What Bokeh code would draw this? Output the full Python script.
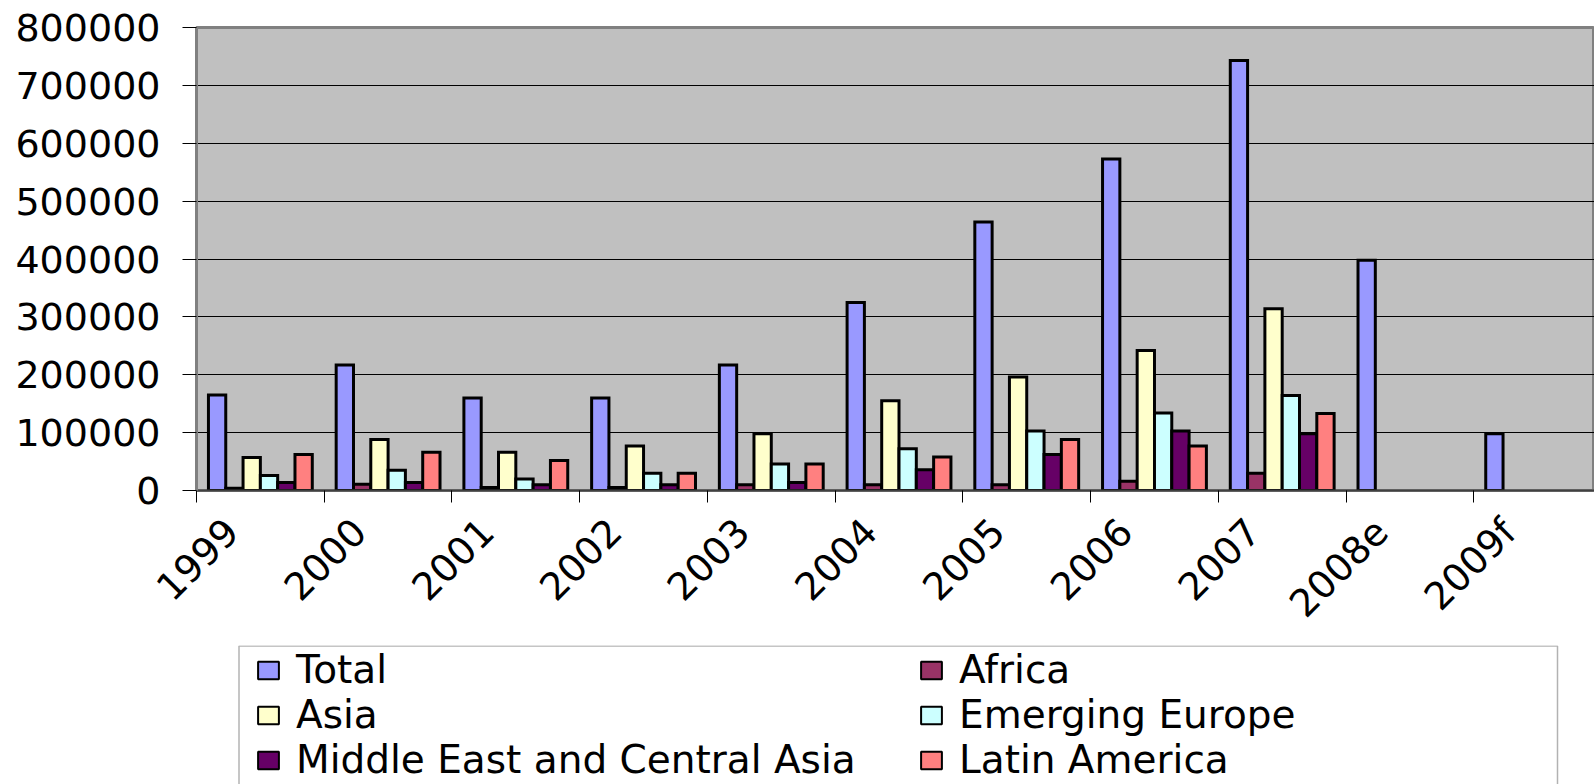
import numpy as np
from math import pi
from bokeh.plotting import figure
from bokeh.layouts import column
from bokeh.models import (Range1d, FixedTicker, Legend, LegendItem,
                          BasicTickFormatter, BoxAnnotation)
from bokeh.embed import file_html
from bokeh.resources import INLINE

# ---- data -------------------------------------------------------------
years = ["1999", "2000", "2001", "2002", "2003", "2004", "2005", "2006", "2007", "2008e", "2009f"]
total = [165000, 217000, 160000, 160000, 217000, 325000, 464000, 573000, 743000, 398000, 98000]
africa = [4000, 11000, 5000, 5000, 10000, 10000, 10000, 16000, 30000, None, None]
asia = [57000, 88000, 66000, 77000, 98000, 155000, 196000, 242000, 314000, None, None]
emerging_europe = [26000, 35000, 20000, 30000, 46000, 72000, 103000, 134000, 164000, None, None]
middle_east_central_asia = [14000, 14000, 10000, 10000, 14000, 36000, 62000, 103000, 98000, None, None]
latin_america = [62000, 66000, 52000, 30000, 46000, 58000, 88000, 77000, 133000, None, None]

series_names = ["Total", "Africa", "Asia", "Emerging Europe",
                "Middle East and Central Asia", "Latin America"]
series_values = [total, africa, asia, emerging_europe, middle_east_central_asia, latin_america]
series_colors = ["#9999FF", "#993366", "#FFFFCC", "#CCFFFF", "#660066", "#FF8080"]
y_ticks = [0, 100000, 200000, 300000, 400000, 500000, 600000, 700000, 800000]

# ---- chart ------------------------------------------------------------
n = len(years)
centers = np.arange(n) + 0.5
bar_w = 0.1355
label_shift = 0.223          # rotated labels end a little left of the category centre
FONT = "DejaVu Sans"

p = figure(width=1594, height=645, output_backend="svg", toolbar_location=None,
           x_range=Range1d(0, 10.945), y_range=Range1d(0, 800000),
           min_border_left=196, min_border_right=0, min_border_top=27,
           min_border_bottom=155)
p.background_fill_color = "#C0C0C0"
p.border_fill_color = "white"
p.outline_line_color = "#808080"
p.outline_line_width = 3

series_tops = []
for k, (name, vals, col) in enumerate(zip(series_names, series_values, series_colors)):
    tops = np.array([np.nan if v is None else v for v in vals], dtype=float)
    series_tops.append(tops)
    p.vbar(x=centers + (k - 2.5) * bar_w, top=tops, bottom=0, width=bar_w,
           fill_color=col, line_color="black", line_width=3, line_join="miter")

p.xgrid.visible = False
p.ygrid.ticker = FixedTicker(ticks=y_ticks)
p.ygrid.grid_line_color = "black"
p.ygrid.grid_line_width = 1

p.yaxis.ticker = FixedTicker(ticks=y_ticks)
p.yaxis.formatter = BasicTickFormatter(use_scientific=False)
p.yaxis.axis_line_color = "#808080"
p.yaxis.axis_line_width = 3
p.yaxis.major_tick_in = 0
p.yaxis.major_tick_out = 14
p.yaxis.minor_tick_line_color = None
p.yaxis.major_tick_line_color = "black"
p.yaxis.major_label_standoff = 22
p.yaxis.major_label_text_font = FONT
p.yaxis.major_label_text_font_size = "38px"
p.yaxis.major_label_text_color = "black"

label_pos = [float(c - label_shift) for c in centers]
p.xaxis.ticker = FixedTicker(ticks=label_pos, minor_ticks=list(range(n + 1)))
p.xaxis.major_label_overrides = {lp: y for lp, y in zip(label_pos, years)}
p.xaxis.major_tick_in = 0
p.xaxis.major_tick_out = 0
p.xaxis.minor_tick_in = 0
p.xaxis.minor_tick_out = 12
p.xaxis.minor_tick_line_color = "black"
p.xaxis.axis_line_color = "#404040"
p.xaxis.axis_line_width = 2
p.xaxis.major_label_orientation = pi / 4
p.xaxis.major_label_standoff = 23
p.xaxis.major_label_text_font = FONT
p.xaxis.major_label_text_font_size = "38px"
p.xaxis.major_label_text_color = "black"

# ---- legend strip (its frame is aligned with the chart frame: left = 196) ----
lg = figure(width=1594, height=139, output_backend="svg", toolbar_location=None,
            x_range=Range1d(0, 10.945), y_range=Range1d(0, 800000),
            x_axis_location=None, y_axis_location=None,
            min_border_left=0, min_border_right=0, min_border_top=0, min_border_bottom=0)
lg.grid.visible = False
lg.outline_line_color = None
lg.background_fill_color = "white"
lg.border_fill_color = "white"

items = []
for k, (name, col, tops) in enumerate(zip(series_names, series_colors, series_tops)):
    # same series, hidden here: only the legend swatch is shown
    r = lg.vbar(x=centers + (k - 2.5) * bar_w, top=tops, bottom=0, width=bar_w,
                fill_color=col, line_color="black", line_width=2, visible=False)
    items.append(LegendItem(label=name, renderers=[r]))

box = BoxAnnotation(left=238.5, right=1557, top=0.5, bottom=220,
                    left_units="canvas", right_units="canvas",
                    top_units="canvas", bottom_units="canvas",
                    fill_color="white", fill_alpha=1, line_color="black", line_width=1.5,
                    level="annotation")
lg.add_layout(box)

legend = Legend(items=items, ncols=2, orientation="horizontal", location=(59, 2),
                padding=0, spacing=0, margin=0, label_width=622,
                glyph_width=26, glyph_height=22, label_standoff=15,
                label_text_font=FONT, label_text_font_size="39px",
                label_text_color="black", inactive_fill_alpha=0,
                border_line_alpha=0, background_fill_alpha=0)
lg.add_layout(legend, "center")

open("out.html", "w").write(file_html(column(p, lg), INLINE))
